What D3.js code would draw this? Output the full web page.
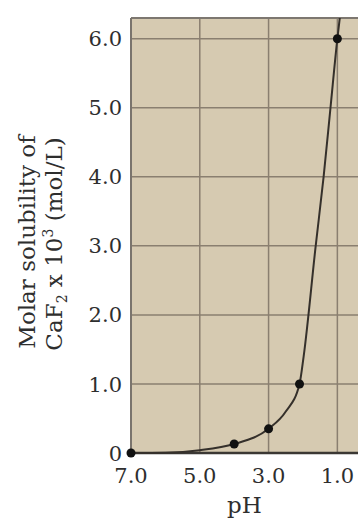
<!DOCTYPE html>
<html>
<head>
<meta charset="utf-8">
<script src="https://cdn.jsdelivr.net/npm/d3@7"></script>
<style>
  html, body { margin: 0; padding: 0; background: #ffffff; }
  svg { display: block; }
  text { font-family: "DejaVu Serif", "Liberation Serif", serif; fill: #2e2e2e; }
</style>
</head>
<body>
<svg id="chart" width="358" height="522"></svg>
<script>
// Measured solubility points (pH, molar solubility x 10^3 mol/L)
const pointPH  = [7.0, 4.0, 3.0, 2.1, 1.0];
const pointSol = [0.0, 0.13, 0.35, 1.0, 6.0];

// Trace of the drawn solubility curve
const curvePH  = [7.0, 6.0, 5.0, 4.0, 3.0, 2.5, 2.1, 1.98, 1.63, 1.40, 1.20, 1.0, 0.93];
const curveSol = [0.0, 0.005, 0.04, 0.13, 0.35, 0.6, 1.0, 1.4, 3.0, 4.0, 5.0, 6.0, 6.3];

// Axis ticks
const xTicks = [7.0, 5.0, 3.0, 1.0];
const xTickLabels = ["7.0", "5.0", "3.0", "1.0"];
const yTicks = [0, 1, 2, 3, 4, 5, 6];
const yTickLabels = ["0", "1.0", "2.0", "3.0", "4.0", "5.0", "6.0"];

const svg = d3.select("#chart");
const plot = { left: 131, right: 358, top: 18, bottom: 453 };

const x = d3.scaleLinear().domain([7.0, 0.4]).range([plot.left, plot.right]);
const y = d3.scaleLinear().domain([0, 6.3]).range([plot.bottom, plot.top]);

// Plot background
svg.append("rect")
  .attr("x", plot.left).attr("y", plot.top)
  .attr("width", plot.right - plot.left).attr("height", plot.bottom - plot.top)
  .attr("fill", "#d6cab1");

// Grid
const grid = svg.append("g").attr("stroke", "#8a7f70").attr("stroke-width", 1.5);
grid.selectAll("line.v").data(xTicks.slice(1)).join("line")
  .attr("x1", d => x(d)).attr("x2", d => x(d))
  .attr("y1", plot.top).attr("y2", plot.bottom);
grid.selectAll("line.h").data(yTicks.slice(1)).join("line")
  .attr("x1", plot.left).attr("x2", plot.right)
  .attr("y1", d => y(d)).attr("y2", d => y(d));

// Frame: top border, left axis, bottom axis
svg.append("line")
  .attr("x1", plot.left).attr("x2", plot.right)
  .attr("y1", plot.top).attr("y2", plot.top)
  .attr("stroke", "#7d7770").attr("stroke-width", 2);
svg.append("line")
  .attr("x1", plot.left).attr("x2", plot.left)
  .attr("y1", plot.top).attr("y2", plot.bottom)
  .attr("stroke", "#7a746d").attr("stroke-width", 2);
svg.append("line")
  .attr("x1", plot.left).attr("x2", plot.right)
  .attr("y1", plot.bottom).attr("y2", plot.bottom)
  .attr("stroke", "#3b3834").attr("stroke-width", 2.5);

// Curve
const curveData = curvePH.map((p, i) => ({ p, s: curveSol[i] }));
const line = d3.line()
  .x(d => x(d.p)).y(d => y(d.s))
  .curve(d3.curveMonotoneX);
svg.append("path")
  .datum(curveData)
  .attr("d", line)
  .attr("fill", "none")
  .attr("stroke", "#35302b")
  .attr("stroke-width", 2);

// Markers
const pts = pointPH.map((p, i) => ({ p, s: pointSol[i] }));
svg.selectAll("circle.pt").data(pts).join("circle")
  .attr("cx", d => x(d.p)).attr("cy", d => y(d.s))
  .attr("r", 4.5).attr("fill", "#111");

// Y tick labels
svg.append("g").selectAll("text").data(yTicks).join("text")
  .attr("x", plot.left - 9)
  .attr("y", d => y(d))
  .attr("dy", "0.36em")
  .attr("text-anchor", "end")
  .attr("font-size", 21)
  .text((d, i) => yTickLabels[i]);

// X tick labels
svg.append("g").selectAll("text").data(xTicks).join("text")
  .attr("x", d => x(d))
  .attr("y", 483)
  .attr("text-anchor", "middle")
  .attr("font-size", 21)
  .text((d, i) => xTickLabels[i]);

// X axis title
svg.append("text")
  .attr("x", (plot.left + plot.right) / 2)
  .attr("y", 513)
  .attr("text-anchor", "middle")
  .attr("font-size", 23)
  .text("pH");

// Y axis title (two lines)
svg.append("text")
  .attr("transform", "translate(35,242) rotate(-90)")
  .attr("text-anchor", "middle")
  .attr("font-size", 23)
  .text("Molar solubility of");
const l2 = svg.append("text")
  .attr("transform", "translate(62,244) rotate(-90)")
  .attr("text-anchor", "middle")
  .attr("font-size", 23);
l2.append("tspan").text("CaF");
l2.append("tspan").attr("font-size", 14).attr("dy", 5).text("2");
l2.append("tspan").attr("dy", -5).text(" x 10");
l2.append("tspan").attr("font-size", 14).attr("dy", -9).text("3");
l2.append("tspan").attr("dy", 9).text(" (mol/L)");
</script>
</body>
</html>
